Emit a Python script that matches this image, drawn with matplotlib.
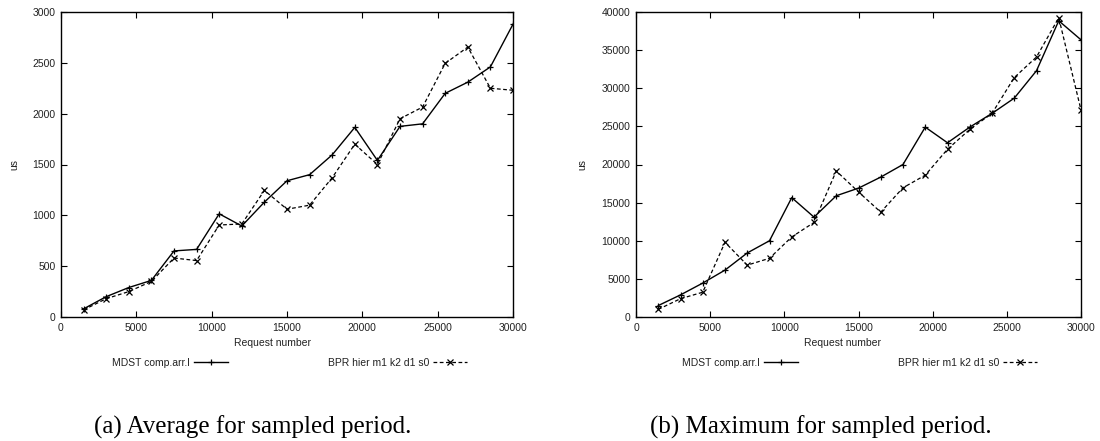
import matplotlib
matplotlib.use("Agg")
import matplotlib.pyplot as plt

# Sampled request numbers
requests = [1500, 3000, 4500, 6000, 7500, 9000, 10500, 12000, 13500, 15000,
            16500, 18000, 19500, 21000, 22500, 24000, 25500, 27000, 28500, 30000]

# (a) average latency per sampled period (us)
avg_mdst = [80, 200, 290, 360, 650, 665, 1015, 895, 1130, 1340,
            1400, 1595, 1865, 1540, 1875, 1900, 2200, 2310, 2460, 2880]
avg_bpr = [70, 180, 250, 350, 580, 555, 905, 915, 1245, 1060,
           1100, 1370, 1700, 1500, 1950, 2065, 2495, 2655, 2250, 2230]

# (b) maximum latency per sampled period (us)
max_mdst = [1500, 2900, 4450, 6150, 8400, 10000, 15650, 13100, 15900, 16900,
            18350, 20000, 24900, 22850, 24900, 26700, 28700, 32300, 38850, 36350]
max_bpr = [1000, 2400, 3250, 9800, 6800, 7700, 10500, 12400, 19150, 16400,
           13750, 16950, 18600, 22000, 24600, 26700, 31400, 34100, 39250, 27150]

series_labels = ["MDST comp.arr.l", "BPR hier m1 k2 d1 s0"]
captions = ["(a) Average for sampled period.", "(b) Maximum for sampled period."]
x_ticks = [0, 5000, 10000, 15000, 20000, 25000, 30000]
y_ticks_avg = [0, 500, 1000, 1500, 2000, 2500, 3000]
y_ticks_max = [0, 5000, 10000, 15000, 20000, 25000, 30000, 35000, 40000]

W, H = 1100, 441
fig = plt.figure(figsize=(W / 100, H / 100), dpi=100)
sans = "Liberation Sans"
serif = "Liberation Serif"
tick_fs = 7.5
text_col = "#222222"

panels = [
    dict(rect=(61, 12, 513, 317), ys=(avg_mdst, avg_bpr), yticks=y_ticks_avg,
         ylim=3000, ylab_x=14, xlab_x=273, leg_ends=(228, 467), cap_x=253),
    dict(rect=(636, 12, 1081, 317), ys=(max_mdst, max_bpr), yticks=y_ticks_max,
         ylim=40000, ylab_x=582, xlab_x=843, leg_ends=(798, 1037), cap_x=821),
]


def fx(px):
    return px / W


def fy(py):
    return 1 - py / H


for i, p in enumerate(panels):
    x0, y0, x1, y1 = p["rect"]
    ax = fig.add_axes([fx(x0), fy(y1), (x1 - x0) / W, (y1 - y0) / H])
    l1, = ax.plot(requests, p["ys"][0], color="black", lw=1.0, ls="-",
                  marker="+", ms=5, mew=0.9)
    l2, = ax.plot(requests, p["ys"][1], color="black", lw=0.9, ls=(0, (3, 2)),
                  marker="x", ms=4, mew=0.9)
    ax.set_xlim(0, 30000)
    ax.set_ylim(0, p["ylim"])
    ax.set_xticks(x_ticks)
    ax.set_yticks(p["yticks"])
    ax.tick_params(direction="in", length=4, width=0.8, top=True, right=True,
                   labelsize=tick_fs, pad=4, colors="black")
    for lab in ax.get_xticklabels() + ax.get_yticklabels():
        lab.set_fontfamily(sans)
        lab.set_color(text_col)
    for s in ax.spines.values():
        s.set_linewidth(1.0)

    fig.text(fx(p["ylab_x"]), fy((y0 + y1) / 2), "us", rotation=90,
             ha="center", va="center", fontsize=tick_fs, family=sans, color=text_col)
    fig.text(fx(p["xlab_x"]), fy(343), "Request number", ha="center",
             va="center", fontsize=tick_fs, family=sans, color=text_col)

    for line, lab, xe in zip((l1, l2), series_labels, p["leg_ends"]):
        leg = fig.legend([line], [lab], loc="center right",
                         bbox_to_anchor=(fx(xe), fy(363)), frameon=False,
                         markerfirst=False, numpoints=1, handlelength=3.3,
                         handletextpad=0.35, borderpad=0, borderaxespad=0,
                         prop=dict(family=sans, size=tick_fs))
        for t in leg.get_texts():
            t.set_color(text_col)

    fig.text(fx(p["cap_x"]), fy(427), captions[i], ha="center", va="center",
             fontsize=18, family=serif, color="black")

fig.savefig("out.png", dpi=100)
